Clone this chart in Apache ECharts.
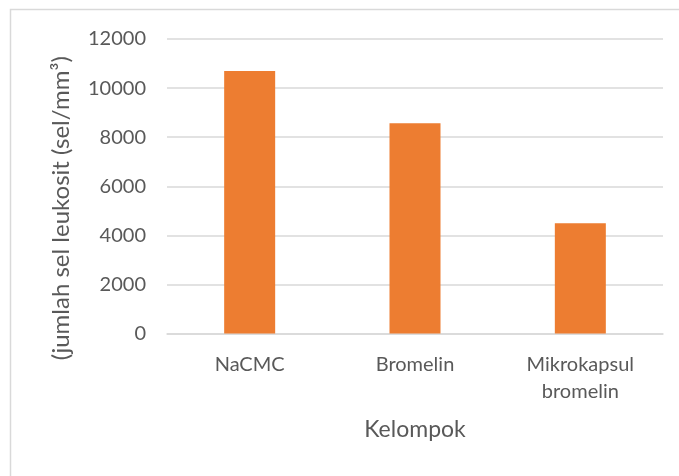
<!DOCTYPE html>
<html>
<head>
<meta charset="utf-8">
<script src="https://cdn.jsdelivr.net/npm/echarts@6/dist/echarts.min.js"></script>
<style>
html,body{margin:0;padding:0;background:#fff;}
#chart{width:679px;height:476px;}
</style>
</head>
<body>
<div id="chart"></div>
<script>
const categories = ['NaCMC', 'Bromelin', 'Mikrokapsul\nbromelin'];
const values = [10700, 8570, 4490];
const yTicks = [0, 2000, 4000, 6000, 8000, 10000, 12000];
const xTitle = 'Kelompok';
const yTitle = '(jumlah sel leukosit (sel/mm³)';

const FONT = 'Lato';
const TXT = '#595959';
const GRID = '#d9d9d9';

const chart = echarts.init(document.getElementById('chart'), null, {renderer: 'canvas'});
chart.setOption({
  backgroundColor: '#fff',
  animation: false,
  graphic: [{
    type: 'rect',
    shape: {x: 10.5, y: 9.5, width: 720, height: 520},
    style: {fill: 'none', stroke: GRID, lineWidth: 1.5},
    silent: true
  }],
  grid: {left: 167, right: 16, top: 39, bottom: 142.5, containLabel: false},
  xAxis: {
    type: 'category',
    data: categories,
    name: xTitle,
    nameLocation: 'middle',
    nameGap: 85,
    nameTextStyle: {fontFamily: FONT, fontSize: 23, color: TXT},
    axisLine: {show: true, lineStyle: {color: GRID, width: 1.5}},
    axisTick: {show: false},
    axisLabel: {fontFamily: FONT, fontSize: 20, color: TXT, margin: 18, lineHeight: 27, interval: 0}
  },
  yAxis: {
    type: 'value',
    min: yTicks[0],
    max: yTicks[yTicks.length - 1],
    interval: yTicks[1] - yTicks[0],
    name: yTitle,
    nameLocation: 'middle',
    nameGap: 94,
    nameTextStyle: {fontFamily: FONT, fontSize: 24, color: TXT, padding: [0, 44, 0, 0]},
    axisLine: {show: false},
    axisTick: {show: false},
    axisLabel: {fontFamily: FONT, fontSize: 20, color: TXT, margin: 21, formatter: v => String(v)},
    splitLine: {lineStyle: {color: GRID, width: 1.5}}
  },
  series: [{
    type: 'bar',
    data: values,
    barWidth: 51,
    itemStyle: {color: '#ED7D31'}
  }]
});
</script>
</body>
</html>
